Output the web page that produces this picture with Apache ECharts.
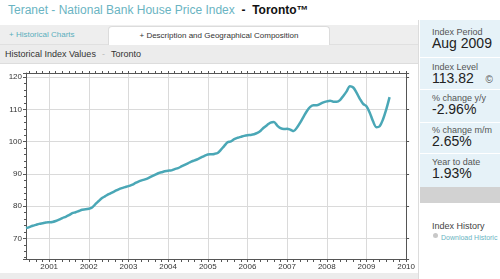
<!DOCTYPE html>
<html>
<head>
<meta charset="utf-8">
<script src="https://cdn.jsdelivr.net/npm/echarts@6/dist/echarts.min.js"></script>
<style>
  body { margin: 0; width: 500px; height: 279px; overflow: hidden; background: #fff; font-family: "Liberation Sans", Arial, sans-serif; position: relative; }
  .abs { position: absolute; white-space: nowrap; }
  #title { left: 8px; top: 3px; font-size: 12px; color: #6ab4c2; }
  #title b { color: #111; font-weight: bold; }
  #tabs { left: 0; top: 25px; width: 418px; height: 19px; background: #eeeeee; border-bottom: 1px solid #e0e0e0; }
  #tab1 { left: 9px; top: 5px; font-size: 8px; color: #5aaebd; }
  #tab2 { left: 108px; top: 1px; width: 220px; height: 18px; background: #fff; border: 1px solid #dcdcdc; border-bottom: none; border-radius: 4px 4px 0 0; font-size: 8px; color: #333; text-align: center; line-height: 18px; }
  #sub { left: 0; top: 45px; width: 418px; height: 18px; background: #ececec; border-bottom: 1px solid #dddddd; font-size: 9px; color: #333; line-height: 18px; }
  #sub span { color: #bbb; padding: 0 6px; }
  #chart { left: 0; top: 63px; width: 418px; height: 210px; }
  #bottom { left: 0; top: 273px; width: 418px; height: 6px; background: #ececec; }
  #vline { left: 418px; top: 20px; width: 1px; height: 259px; background: #dcdcdc; }
  #side { left: 420px; top: 20px; width: 80px; height: 167px; background: #e6f2f8; }
  .sec { left: 420px; width: 80px; border-top: 1px solid #fff; }
  .lab { left: 432px; font-size: 9px; color: #555; }
  .val { left: 432px; font-size: 14px; color: #222; }
  #gray { left: 420px; top: 187px; width: 80px; height: 16px; background: #d2d2d2; }
  #hist { left: 432px; top: 221px; font-size: 9px; color: #444; }
  #dl { left: 441px; top: 234px; font-size: 7px; color: #6ab4c2; }
  #dot { left: 433px; top: 233px; width: 5px; height: 5px; border-radius: 3px; background: #c8c8c8; }
</style>
</head>
<body>
<div class="abs" id="title">Teranet - National Bank House Price Index &nbsp;<b>-&nbsp; Toronto™</b></div>
<div class="abs" id="tabs">
  <div class="abs" id="tab1">+ Historical Charts</div>
  <div class="abs" id="tab2">+ Description and Geographical Composition</div>
</div>
<div class="abs" id="sub">&nbsp;&nbsp;Historical Index Values<span>-</span>Toronto</div>
<div class="abs" id="chart"></div>
<div class="abs" id="bottom"></div>
<div class="abs" id="vline"></div>
<div class="abs" id="side"></div>
<div class="abs sec" style="top:57px"></div>
<div class="abs sec" style="top:89px"></div>
<div class="abs sec" style="top:122px"></div>
<div class="abs sec" style="top:153px"></div>
<div class="abs lab" style="top:27px">Index Period</div>
<div class="abs val" style="top:35px">Aug 2009</div>
<div class="abs lab" style="top:62px">Index Level</div>
<div class="abs val" style="top:70px">113.82 &nbsp;&nbsp;<span style="font-size:10px;color:#555">©</span></div>
<div class="abs lab" style="top:93px">% change y/y</div>
<div class="abs val" style="top:101px">-2.96%</div>
<div class="abs lab" style="top:125px">% change m/m</div>
<div class="abs val" style="top:133px">2.65%</div>
<div class="abs lab" style="top:157px">Year to date</div>
<div class="abs val" style="top:165px">1.93%</div>
<div class="abs" id="gray"></div>
<div class="abs" id="hist">Index History</div>
<div class="abs" id="dot"></div>
<div class="abs" id="dl">Download Historic</div>

<script>
// month axis: Jun 2000 .. Jan 2010
var startYear = 2000, startMonth = 6, monthCount = 116;
var months = [];
for (var k = 0; k < monthCount; k++) {
  var m = startMonth - 1 + k;
  var y = startYear + Math.floor(m / 12);
  var mm = (m % 12) + 1;
  months.push(y + '-' + (mm < 10 ? '0' + mm : mm));
}

// index values, monthly from Jun 2000 to Aug 2009
var idx2000 = [73.2, 73.5, 73.9, 74.2, 74.5, 74.7, 74.9];
var idx2001 = [75.0, 75.1, 75.4, 75.8, 76.3, 76.7, 77.2, 77.8, 78.1, 78.5, 78.9, 79.0];
var idx2002 = [79.2, 79.6, 80.6, 81.6, 82.5, 83.1, 83.7, 84.2, 84.7, 85.2, 85.6, 85.9];
var idx2003 = [86.2, 86.6, 87.1, 87.6, 88.0, 88.3, 88.7, 89.2, 89.7, 90.2, 90.5, 90.8];
var idx2004 = [91.0, 91.1, 91.5, 91.8, 92.3, 92.8, 93.3, 93.8, 94.2, 94.6, 95.1, 95.6];
var idx2005 = [96.0, 96.1, 96.2, 96.5, 97.5, 98.7, 99.8, 100.1, 100.8, 101.2, 101.5, 101.8];
var idx2006 = [102.0, 102.1, 102.3, 102.7, 103.4, 104.4, 105.2, 105.9, 106.1, 105.0, 104.2, 103.9];
var idx2007 = [104.0, 103.7, 103.3, 104.4, 106.0, 107.8, 109.5, 110.8, 111.3, 111.3, 111.7, 112.2];
var idx2008 = [112.5, 112.7, 112.4, 112.4, 112.9, 114.2, 115.6, 117.2, 116.8, 115.2, 113.3, 111.7];
var idx2009 = [111.0, 109.0, 106.3, 104.5, 104.8, 106.9, 110.0, 113.8];

var values = [].concat(idx2000, idx2001, idx2002, idx2003, idx2004, idx2005, idx2006, idx2007, idx2008, idx2009);

var yMin = 63.6, yMax = 121.3;

var chartDom = document.getElementById('chart');
var myChart = echarts.init(chartDom);
var option;

function isJan(i, v) { return v.slice(5) === '01'; }
function isEven(i, v) { return (i % 2) === 1; }

var axisColor = '#555';
var gridColor = '#dadada';

option = {
  animation: false,
  grid: { left: 26, right: 11, top: 10, bottom: 14 },
  textStyle: { fontFamily: 'Liberation Sans' },
  xAxis: [
    {
      type: 'category',
      data: months,
      boundaryGap: false,
      axisLine: { lineStyle: { color: axisColor } },
      axisTick: { show: true, interval: isEven, length: 3, lineStyle: { color: axisColor } },
      axisLabel: {
        interval: isJan,
        formatter: function (v) { return v.slice(0, 4); },
        color: '#333',
        fontSize: 8,
        margin: 4
      },
      splitLine: { show: true, interval: isJan, lineStyle: { color: gridColor } }
    },
    {
      type: 'category',
      data: months,
      boundaryGap: false,
      position: 'top',
      axisLine: { show: true, lineStyle: { color: axisColor } },
      axisTick: { show: true, interval: isEven, length: 2, lineStyle: { color: axisColor } },
      axisLabel: { show: false },
      splitLine: { show: false }
    }
  ],
  yAxis: [
    {
      type: 'value',
      min: yMin,
      max: yMax,
      axisLine: { show: true, lineStyle: { color: axisColor } },
      axisTick: { show: true, length: 3, lineStyle: { color: axisColor } },
      minorTick: { show: true, splitNumber: 5, length: 2, lineStyle: { color: axisColor } },
      axisLabel: { color: '#333', fontSize: 8, margin: 4, showMinLabel: false, showMaxLabel: false },
      splitLine: { show: true, lineStyle: { color: gridColor } }
    },
    {
      type: 'value',
      min: yMin,
      max: yMax,
      position: 'right',
      axisLine: { show: true, lineStyle: { color: axisColor } },
      axisTick: { show: true, length: 3, lineStyle: { color: axisColor } },
      axisLabel: { show: false },
      splitLine: { show: false }
    }
  ],
  series: [
    {
      name: 'Toronto',
      type: 'line',
      data: values,
      showSymbol: false,
      smooth: 0.3,
      color: '#4aa7b6',
      lineStyle: { width: 2.5 }
    }
  ]
};

option && myChart.setOption(option);
</script>
</body>
</html>
